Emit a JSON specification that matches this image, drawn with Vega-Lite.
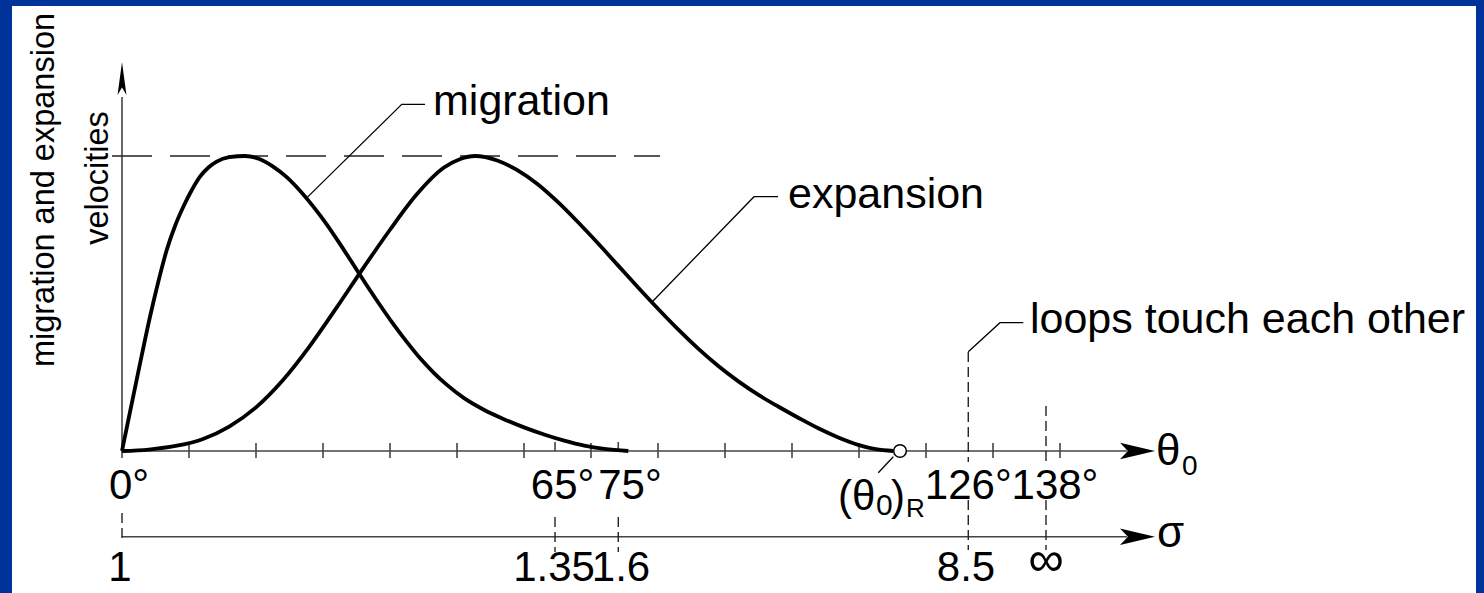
{
  "$schema": "https://vega.github.io/schema/vega-lite/v6.json",
  "autosize": "none",
  "width": 1464,
  "height": 587,
  "padding": {"left": 12, "top": 6, "right": 8, "bottom": 0},
  "background": "#003399",
  "config": {
    "view": {"fill": "white", "stroke": null},
    "text": {"font": "Liberation Sans", "color": "black"}
  },
  "datasets": {
    "curves": [
      {"series": "migration", "u": 0, "v": 0},
      {"series": "migration", "u": 0.1, "v": 0.111},
      {"series": "migration", "u": 0.194, "v": 0.214},
      {"series": "migration", "u": 0.3, "v": 0.33},
      {"series": "migration", "u": 0.418, "v": 0.455},
      {"series": "migration", "u": 0.54, "v": 0.572},
      {"series": "migration", "u": 0.667, "v": 0.681},
      {"series": "migration", "u": 0.79, "v": 0.762},
      {"series": "migration", "u": 0.915, "v": 0.828},
      {"series": "migration", "u": 1.04, "v": 0.884},
      {"series": "migration", "u": 1.164, "v": 0.93},
      {"series": "migration", "u": 1.29, "v": 0.961},
      {"series": "migration", "u": 1.413, "v": 0.981},
      {"series": "migration", "u": 1.6, "v": 0.996},
      {"series": "migration", "u": 1.836, "v": 1.0},
      {"series": "migration", "u": 2.05, "v": 0.99},
      {"series": "migration", "u": 2.25, "v": 0.965},
      {"series": "migration", "u": 2.45, "v": 0.93},
      {"series": "migration", "u": 2.65, "v": 0.884},
      {"series": "migration", "u": 2.85, "v": 0.83},
      {"series": "migration", "u": 3.05, "v": 0.77},
      {"series": "migration", "u": 3.25, "v": 0.703},
      {"series": "migration", "u": 3.45, "v": 0.633},
      {"series": "migration", "u": 3.65, "v": 0.563},
      {"series": "migration", "u": 3.85, "v": 0.495},
      {"series": "migration", "u": 4.05, "v": 0.43},
      {"series": "migration", "u": 4.25, "v": 0.37},
      {"series": "migration", "u": 4.45, "v": 0.314},
      {"series": "migration", "u": 4.65, "v": 0.266},
      {"series": "migration", "u": 4.85, "v": 0.224},
      {"series": "migration", "u": 5.1, "v": 0.18},
      {"series": "migration", "u": 5.4, "v": 0.14},
      {"series": "migration", "u": 5.7, "v": 0.108},
      {"series": "migration", "u": 6.0, "v": 0.08},
      {"series": "migration", "u": 6.3, "v": 0.056},
      {"series": "migration", "u": 6.6, "v": 0.035},
      {"series": "migration", "u": 6.9, "v": 0.018},
      {"series": "migration", "u": 7.2, "v": 0.007},
      {"series": "migration", "u": 7.557, "v": 0},
      {"series": "expansion", "u": 0, "v": 0},
      {"series": "expansion", "u": 0.4, "v": 0.005},
      {"series": "expansion", "u": 0.8, "v": 0.017},
      {"series": "expansion", "u": 1.2, "v": 0.04},
      {"series": "expansion", "u": 1.6, "v": 0.083},
      {"series": "expansion", "u": 2.0, "v": 0.148},
      {"series": "expansion", "u": 2.4, "v": 0.24},
      {"series": "expansion", "u": 2.8, "v": 0.355},
      {"series": "expansion", "u": 3.2, "v": 0.485},
      {"series": "expansion", "u": 3.6, "v": 0.62},
      {"series": "expansion", "u": 4.0, "v": 0.75},
      {"series": "expansion", "u": 4.4, "v": 0.87},
      {"series": "expansion", "u": 4.8, "v": 0.96},
      {"series": "expansion", "u": 5.05, "v": 0.99},
      {"series": "expansion", "u": 5.269, "v": 1.0},
      {"series": "expansion", "u": 5.6, "v": 0.985},
      {"series": "expansion", "u": 5.9, "v": 0.952},
      {"series": "expansion", "u": 6.2, "v": 0.905},
      {"series": "expansion", "u": 6.5, "v": 0.845},
      {"series": "expansion", "u": 6.8, "v": 0.777},
      {"series": "expansion", "u": 7.1, "v": 0.705},
      {"series": "expansion", "u": 7.4, "v": 0.63},
      {"series": "expansion", "u": 7.7, "v": 0.555},
      {"series": "expansion", "u": 8.0, "v": 0.482},
      {"series": "expansion", "u": 8.3, "v": 0.412},
      {"series": "expansion", "u": 8.6, "v": 0.347},
      {"series": "expansion", "u": 8.9, "v": 0.288},
      {"series": "expansion", "u": 9.2, "v": 0.236},
      {"series": "expansion", "u": 9.5, "v": 0.19},
      {"series": "expansion", "u": 9.8, "v": 0.15},
      {"series": "expansion", "u": 10.1, "v": 0.112},
      {"series": "expansion", "u": 10.4, "v": 0.076},
      {"series": "expansion", "u": 10.7, "v": 0.045},
      {"series": "expansion", "u": 11.0, "v": 0.02},
      {"series": "expansion", "u": 11.25, "v": 0.006},
      {"series": "expansion", "u": 11.512, "v": 0}
    ],
    "axisRules": [
      {"u": 0, "v": -0.0237, "u2": 0, "v2": 1.2},
      {"u": 0, "v": 0, "u2": 15.0, "v2": 0},
      {"u": 0, "v": -0.2905, "u2": 15.0, "v2": -0.2905},
      {"u": 1, "v": 0.0271, "u2": 1, "v2": -0.0237},
      {"u": 2, "v": 0.0271, "u2": 2, "v2": -0.0237},
      {"u": 3, "v": 0.0271, "u2": 3, "v2": -0.0237},
      {"u": 4, "v": 0.0271, "u2": 4, "v2": -0.0237},
      {"u": 5, "v": 0.0271, "u2": 5, "v2": -0.0237},
      {"u": 6, "v": 0.0271, "u2": 6, "v2": -0.0237},
      {"u": 7, "v": 0.0271, "u2": 7, "v2": -0.0237},
      {"u": 8, "v": 0.0271, "u2": 8, "v2": -0.0237},
      {"u": 9, "v": 0.0271, "u2": 9, "v2": -0.0237},
      {"u": 10, "v": 0.0271, "u2": 10, "v2": -0.0237},
      {"u": 11, "v": 0.0271, "u2": 11, "v2": -0.0237},
      {"u": 12, "v": 0.0271, "u2": 12, "v2": -0.0237},
      {"u": 13, "v": 0.0271, "u2": 13, "v2": -0.0237},
      {"u": 14, "v": 0.0271, "u2": 14, "v2": -0.0237},
      {"u": 6.463, "v": 0.0305, "u2": 6.463, "v2": 0},
      {"u": 7.407, "v": 0.0305, "u2": 7.407, "v2": 0}
    ],
    "dashRules": [
      {"u": 0, "v": -0.2102, "u2": 0, "v2": -0.3085},
      {"u": 6.463, "v": -0.2237, "u2": 6.463, "v2": -0.3424},
      {"u": 7.407, "v": -0.2237, "u2": 7.407, "v2": -0.3424},
      {"u": 12.631, "v": 0.3356, "u2": 12.631, "v2": -0.0373},
      {"u": 12.631, "v": -0.1661, "u2": 12.631, "v2": -0.3356},
      {"u": 13.791, "v": 0.1525, "u2": 13.791, "v2": -0.0373},
      {"u": 13.791, "v": -0.1661, "u2": 13.791, "v2": -0.3356}
    ],
    "peakLine": [
      {"u": -0.149, "v": 1.0, "u2": 8.03, "v2": 1.0}
    ],
    "leaders": [
      {"series": "migration", "i": 1, "u": 2.757, "v": 0.858},
      {"series": "migration", "i": 2, "u": 4.175, "v": 1.1752},
      {"series": "migration", "i": 3, "u": 4.522, "v": 1.1752},
      {"series": "expansion", "i": 1, "u": 7.915, "v": 0.506},
      {"series": "expansion", "i": 2, "u": 9.433, "v": 0.862},
      {"series": "expansion", "i": 3, "u": 9.791, "v": 0.862},
      {"series": "loops", "i": 1, "u": 12.631, "v": 0.3366},
      {"series": "loops", "i": 2, "u": 13.104, "v": 0.4349},
      {"series": "loops", "i": 3, "u": 13.452, "v": 0.4349},
      {"series": "theta0R", "i": 1, "u": 11.288, "v": -0.0736},
      {"series": "theta0R", "i": 2, "u": 11.512, "v": -0.0193}
    ],
    "circle": [{"u": 11.612, "v": 0}],
    "upArrow": [{"u": 0, "v": 1.2627}],
    "rightArrows": [{"u": 15.157, "v": 0}, {"u": 15.157, "v": -0.2905}],
    "curveLabels": [
      {"label": "migration", "u": 4.642, "v": 1.139},
      {"label": "expansion", "u": 9.94, "v": 0.8237},
      {"label": "loops touch each other", "u": 13.552, "v": 0.4}
    ],
    "tickLabels": [
      {"label": "0°", "u": 0.104, "v": -0.1627},
      {"label": "65°", "u": 6.575, "v": -0.1627},
      {"label": "75°", "u": 7.582, "v": -0.1627},
      {"label": "126°", "u": 12.631, "v": -0.1627},
      {"label": "138°", "u": 13.925, "v": -0.1627},
      {"label": "1", "u": -0.03, "v": -0.4407},
      {"label": "1.35", "u": 6.448, "v": -0.4407},
      {"label": "1.6", "u": 7.448, "v": -0.4407},
      {"label": "8.5", "u": 12.597, "v": -0.4407}
    ],
    "infLabel": [{"label": "∞", "u": 13.791, "v": -0.4237}],
    "thetaRMain": [
      {"label": "(θ", "u": 10.687, "v": -0.2},
      {"label": ")", "u": 11.478, "v": -0.2}
    ],
    "thetaRSub0": [{"label": "0", "u": 11.254, "v": -0.2169}],
    "thetaRSubR": [{"label": "R", "u": 11.701, "v": -0.2227}],
    "axisNames": [
      {"label": "θ", "u": 15.433, "v": -0.0475},
      {"label": "σ", "u": 15.448, "v": -0.3244}
    ],
    "axisSub": [{"label": "0", "u": 15.821, "v": -0.0814}],
    "yTitle": [
      {"label": "migration and expansion", "u": -1.015, "v": 0.8847},
      {"label": "velocities", "u": -0.209, "v": 0.9254}
    ]
  },
  "encoding": {
    "x": {"field": "u", "type": "quantitative", "scale": {"domain": [-1.641791, 20.208955], "nice": false, "zero": false}, "axis": null},
    "y": {"field": "v", "type": "quantitative", "scale": {"domain": [-0.481356, 1.508475], "nice": false, "zero": false}, "axis": null}
  },
  "layer": [
    {
      "data": {"name": "axisRules"},
      "mark": {"type": "rule", "color": "#444444", "strokeWidth": 1.6},
      "encoding": {"x2": {"field": "u2"}, "y2": {"field": "v2"}}
    },
    {
      "data": {"name": "dashRules"},
      "mark": {"type": "rule", "color": "#222222", "strokeWidth": 1.4, "strokeDash": [10, 5]},
      "encoding": {"x2": {"field": "u2"}, "y2": {"field": "v2"}}
    },
    {
      "data": {"name": "peakLine"},
      "mark": {"type": "rule", "color": "#222222", "strokeWidth": 1.4, "strokeDash": [40, 18]},
      "encoding": {"x2": {"field": "u2"}, "y2": {"field": "v2"}}
    },
    {
      "data": {"name": "curves"},
      "mark": {"type": "line", "color": "black", "strokeWidth": 3.8, "interpolate": "monotone"},
      "encoding": {"detail": {"field": "series"}}
    },
    {
      "data": {"name": "leaders"},
      "mark": {"type": "line", "color": "black", "strokeWidth": 1.3},
      "encoding": {"detail": {"field": "series"}, "order": {"field": "i", "type": "quantitative"}}
    },
    {
      "data": {"name": "circle"},
      "mark": {"type": "point", "shape": "circle", "size": 160, "filled": true, "fill": "white", "stroke": "black", "strokeWidth": 1.5, "opacity": 1}
    },
    {
      "data": {"name": "upArrow"},
      "mark": {"type": "point", "shape": "M0,-1L0.27,1L0,0.55L-0.27,1Z", "size": 1089, "filled": true, "color": "black", "opacity": 1}
    },
    {
      "data": {"name": "rightArrows"},
      "mark": {"type": "point", "shape": "M1,0L-1,-0.47L-0.55,0L-1,0.47Z", "size": 1225, "filled": true, "color": "black", "opacity": 1}
    },
    {
      "data": {"name": "curveLabels"},
      "mark": {"type": "text", "align": "left", "baseline": "alphabetic", "fontSize": 43},
      "encoding": {"text": {"field": "label"}}
    },
    {
      "data": {"name": "tickLabels"},
      "mark": {"type": "text", "align": "center", "baseline": "alphabetic", "fontSize": 42},
      "encoding": {"text": {"field": "label"}}
    },
    {
      "data": {"name": "infLabel"},
      "mark": {"type": "text", "align": "center", "baseline": "alphabetic", "fontSize": 50},
      "encoding": {"text": {"field": "label"}}
    },
    {
      "data": {"name": "thetaRMain"},
      "mark": {"type": "text", "align": "left", "baseline": "alphabetic", "fontSize": 42},
      "encoding": {"text": {"field": "label"}}
    },
    {
      "data": {"name": "thetaRSub0"},
      "mark": {"type": "text", "align": "left", "baseline": "alphabetic", "fontSize": 30},
      "encoding": {"text": {"field": "label"}}
    },
    {
      "data": {"name": "thetaRSubR"},
      "mark": {"type": "text", "align": "left", "baseline": "alphabetic", "fontSize": 26},
      "encoding": {"text": {"field": "label"}}
    },
    {
      "data": {"name": "axisNames"},
      "mark": {"type": "text", "align": "left", "baseline": "alphabetic", "fontSize": 44},
      "encoding": {"text": {"field": "label"}}
    },
    {
      "data": {"name": "axisSub"},
      "mark": {"type": "text", "align": "left", "baseline": "alphabetic", "fontSize": 28},
      "encoding": {"text": {"field": "label"}}
    },
    {
      "data": {"name": "yTitle"},
      "mark": {"type": "text", "align": "center", "baseline": "alphabetic", "fontSize": 32.5, "angle": 270},
      "encoding": {"text": {"field": "label"}}
    }
  ]
}
